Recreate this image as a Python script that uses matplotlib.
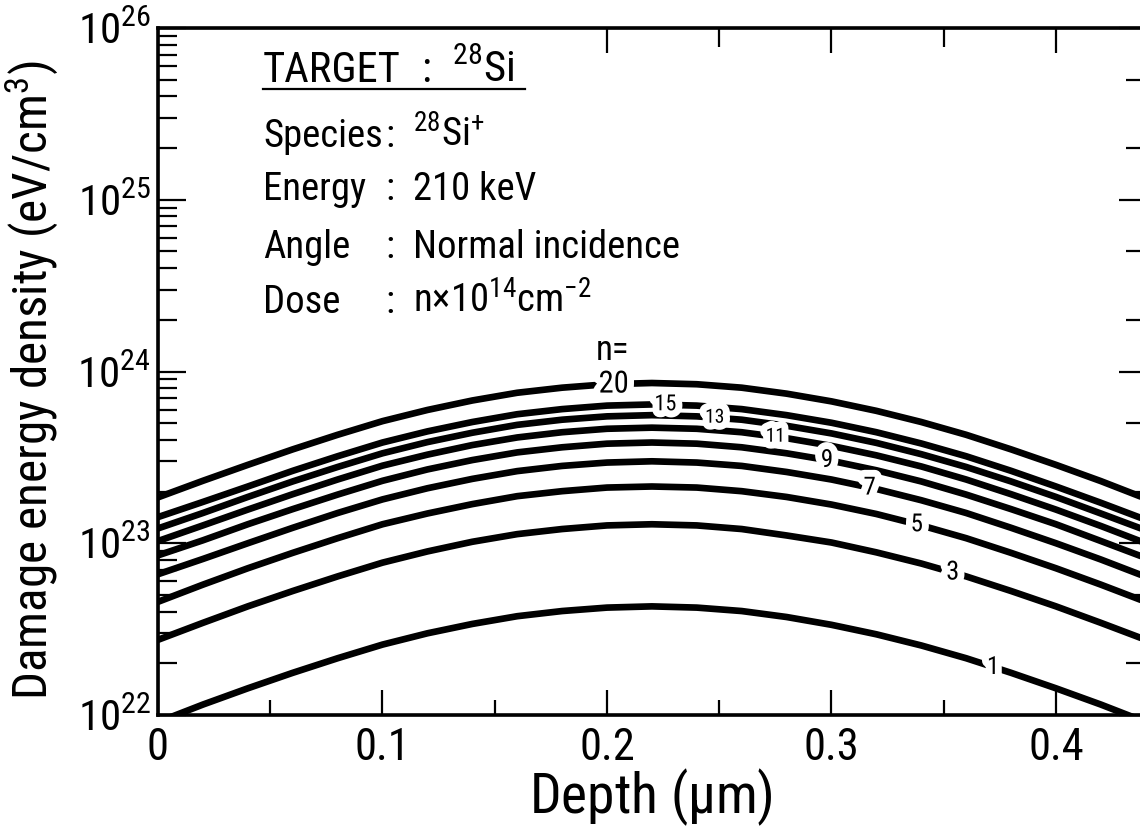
import numpy as np
import matplotlib.pyplot as plt
import matplotlib.patheffects as pe
from matplotlib import font_manager as fm
from matplotlib.ticker import NullFormatter, FixedFormatter

# pick a narrow sans face if one is installed
names = {f.name for f in fm.fontManager.ttflist}
face = 'DejaVu Sans'
for cand in ['Liberation Sans Narrow', 'Roboto Condensed', 'Open Sans Condensed',
             'Noto Sans Condensed', 'DejaVu Sans Condensed']:
    if cand in names:
        face = cand
        break

plt.rcParams['font.family'] = [face, 'DejaVu Sans']
plt.rcParams['font.stretch'] = 'condensed'
plt.rcParams['mathtext.fontset'] = 'custom'
plt.rcParams['mathtext.rm'] = face
plt.rcParams['mathtext.it'] = face + ':italic'
plt.rcParams['mathtext.default'] = 'regular'

# depth grid (um) shared by all curves
depth = [0.00, 0.02, 0.04, 0.06, 0.08, 0.10, 0.12, 0.14, 0.16, 0.18, 0.20, 0.22,
         0.24, 0.26, 0.28, 0.30, 0.32, 0.34, 0.36, 0.38, 0.40, 0.42, 0.44]

# damage energy density, units of 1e22 eV/cm3, one list per dose factor n
ede_1 = [0.91, 1.15, 1.43, 1.76, 2.14, 2.57, 2.99, 3.39, 3.76, 4.03, 4.22, 4.29,
         4.22, 4.03, 3.72, 3.35, 2.95, 2.54, 2.14, 1.76, 1.43, 1.15, 0.91]
ede_3 = [2.74, 3.44, 4.29, 5.27, 6.41, 7.71, 8.96, 10.2, 11.3, 12.1, 12.7, 12.9,
         12.7, 12.1, 11.1, 10.1, 8.85, 7.62, 6.41, 5.27, 4.29, 3.44, 2.74]
ede_5 = [4.56, 5.74, 7.15, 8.79, 10.7, 12.9, 14.9, 16.9, 18.8, 20.1, 21.1, 21.4,
         21.1, 20.1, 18.6, 16.8, 14.8, 12.7, 10.7, 8.79, 7.15, 5.74, 4.56]
ede_7 = [6.60, 8.10, 10.0, 12.3, 15.0, 18.0, 20.9, 23.7, 26.3, 28.2, 29.5, 30.0,
         29.5, 28.2, 26.0, 23.5, 20.7, 17.8, 15.0, 12.3, 10.0, 8.04, 6.38]
ede_9 = [8.50, 10.4, 12.9, 15.8, 19.2, 23.1, 26.9, 30.5, 33.8, 36.2, 38.0, 38.6,
         38.0, 36.2, 33.4, 30.2, 26.6, 22.9, 19.2, 15.8, 12.9, 10.3, 8.21]
ede_11 = [10.3, 12.7, 15.7, 19.3, 23.5, 28.3, 32.8, 37.3, 41.3, 44.3, 46.4, 47.1,
          46.4, 44.3, 40.9, 36.9, 32.5, 28.0, 23.5, 19.3, 15.7, 12.6, 10.0]
ede_13 = [12.2, 15.0, 18.6, 22.9, 27.8, 33.4, 38.8, 44.0, 48.9, 52.4, 54.8, 55.7,
          54.8, 52.4, 48.3, 43.6, 38.4, 33.0, 27.8, 22.9, 18.6, 14.9, 11.9]
ede_15 = [14.2, 17.4, 21.4, 26.4, 32.1, 38.6, 44.8, 50.8, 56.4, 60.4, 63.3, 64.3,
          63.3, 60.4, 55.7, 50.3, 44.3, 38.1, 32.1, 26.4, 21.4, 17.2, 13.7]
ede_20 = [18.5, 23.1, 28.6, 35.2, 42.8, 51.4, 59.7, 67.8, 75.2, 80.5, 84.3, 85.7,
          84.3, 80.5, 74.3, 67.0, 59.0, 50.8, 42.8, 35.2, 28.6, 23.0, 18.2]

doses = [1, 3, 5, 7, 9, 11, 13, 15, 20]
curves = [ede_1, ede_3, ede_5, ede_7, ede_9, ede_11, ede_13, ede_15, ede_20]
# where each n label sits along its curve, and its size
label_depth = [0.372, 0.354, 0.338, 0.317, 0.298, 0.275, 0.248, 0.226, 0.203]
label_size = [18, 19, 18, 18, 18, 14, 14, 16, 22]

W, H = 1140, 834
fig = plt.figure(figsize=(W / 100, H / 100), dpi=100)
ax = fig.add_axes((158 / W, 1 - 715 / H, 985 / W, 687 / H))

for n, vals, xl, fs in zip(doses, curves, label_depth, label_size):
    y = np.array(vals) * 1e22
    ax.plot(depth, y, color='black', lw=4.8, solid_capstyle='butt', zorder=2)
    yl = 10 ** np.interp(xl, depth, np.log10(y))
    ax.text(xl, yl, str(n), fontsize=fs, ha='center', va='center', zorder=3,
            path_effects=[pe.withStroke(linewidth=10, foreground='white')])

ax.set_yscale('log')
ax.set_xlim(0, 985 / 2245)
ax.set_ylim(1e22, 1e26)

for s in ax.spines.values():
    s.set_linewidth(2.6)

ax.set_xticks([0, 0.1, 0.2, 0.3, 0.4])
ax.xaxis.set_major_formatter(FixedFormatter(['0', '0.1', '0.2', '0.3', '0.4']))
ax.set_xticks([0.05, 0.15, 0.25, 0.35], minor=True)
ax.tick_params(axis='x', which='major', direction='in', length=18, width=1.6,
               labelsize=32, pad=9, top=False)
ax.tick_params(axis='x', which='minor', direction='in', length=11, width=1.6, top=False)
ax.tick_params(axis='y', which='major', direction='in', length=20, width=1.6,
               labelsize=31, pad=5, right=False)
ax.tick_params(axis='y', which='minor', direction='in', length=14, width=1.6, right=False)
ax.yaxis.set_minor_formatter(NullFormatter())

xlab = ax.set_xlabel('Depth ($\\mu$m)', fontsize=40)
ax.xaxis.set_label_coords(0.5, -0.075)
ylab = ax.set_ylabel('Damage energy density (eV/cm$^3$)', fontsize=30)
ax.yaxis.set_label_coords(-0.099, 0.488)

# top ticks only on the right half
top = ax.twiny()
top.set_xlim(ax.get_xlim())
top.set_xticks([0.2, 0.3, 0.4])
top.set_xticks([0.25, 0.35], minor=True)
top.tick_params(axis='x', which='major', direction='in', length=18, width=1.6, labeltop=False)
top.tick_params(axis='x', which='minor', direction='in', length=14, width=1.6)

# right ticks at 1, 2, 5 per decade
right = ax.twinx()
right.set_yscale('log')
right.set_ylim(ax.get_ylim())
decades = [1e22, 1e23, 1e24, 1e25, 1e26]
right.set_yticks(decades)
right.set_yticks([d * m for d in decades[:-1] for m in (2, 5)], minor=True)
right.yaxis.set_major_formatter(NullFormatter())
right.yaxis.set_minor_formatter(NullFormatter())
right.tick_params(axis='y', which='major', direction='in', length=17, width=1.6)
right.tick_params(axis='y', which='minor', direction='in', length=12, width=1.6)


def fx(px):
    return px / W


def fy(py):
    return 1 - py / H


# annotation block
head = [fig.text(fx(263), fy(82), 'TARGET', fontsize=30, va='baseline'),
        fig.text(fx(421), fy(82), ':', fontsize=30, va='baseline'),
        fig.text(fx(452), fy(82), '$^{28}$Si', fontsize=30, va='baseline')]
fig.add_artist(plt.Line2D([fx(263), fx(525)], [fy(89), fy(89)], color='black', lw=1.6))

rows = [('Species', '$^{28}$Si$^{+}$', 147),
        ('Energy', '210 keV', 200),
        ('Angle', 'Normal incidence', 258),
        ('Dose', 'n$\\times$10$^{14}$cm$^{-2}$', 313)]
body = []
for name, value, py in rows:
    body.append(fig.text(fx(263), fy(py), name, fontsize=26, va='baseline'))
    body.append(fig.text(fx(385), fy(py), ':', fontsize=26, va='baseline'))
    body.append(fig.text(fx(413), fy(py), value, fontsize=26, va='baseline'))

fig.text(fx(613), fy(360), 'n=', fontsize=25, ha='center', va='baseline')

# scale the text sizes to the room they take on the sheet
fig.canvas.draw()
r = fig.canvas.get_renderer()

fs_head = 1.06 * 30 * 130 / head[0].get_window_extent(r).width
for t in head:
    t.set_fontsize(fs_head)
fs_body = 1.04 * 26 * 0.5 * (109 / body[0].get_window_extent(r).width
                             + 125 / body[5].get_window_extent(r).width)
for t in body:
    t.set_fontsize(fs_body)
ylab.set_fontsize(30 * 640 / ylab.get_window_extent(r).height)

fig.savefig('out.png', dpi=100)
